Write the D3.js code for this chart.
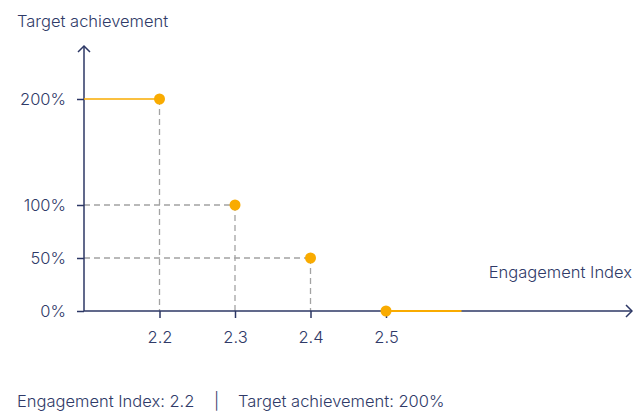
<!doctype html>
<html lang="en">
<head>
<meta charset="utf-8">
<script src="https://d3js.org/d3.v7.min.js"></script>
<style>
  body { margin: 0; background: #fff; }
  svg text { font-family: Inter, "Noto Sans", sans-serif; fill: #2f3a68; font-weight: 300; }
</style>
</head>
<body>
<div id="chart"></div>
<script>
  // data
  var engagement = [2.2, 2.3, 2.4, 2.5];
  var achievement = [200, 100, 50, 0];
  var xTicks = [2.2, 2.3, 2.4, 2.5];
  var yTicks = [0, 50, 100, 200];

  var width = 633, height = 411;
  var navy = "#2c3765", orange = "#f9ab00", grey = "#a3a3a3";
  var fs = 16.5;

  var svg = d3.select("#chart").append("svg")
    .attr("width", width).attr("height", height);

  var x = d3.scaleLinear().domain([2.1, 2.5]).range([84, 386]);
  var y = d3.scaleLinear().domain([0, 200]).range([311, 99]);

  var pts = engagement.map((e, i) => ({ x: e, y: achievement[i] }));

  // dashed guides
  svg.selectAll(".vguide").data(pts.filter(d => d.y > 0)).join("line")
    .attr("x1", d => x(d.x)).attr("x2", d => x(d.x))
    .attr("y1", d => y(d.y)).attr("y2", y(0))
    .attr("stroke", grey).attr("stroke-width", 1.3).attr("stroke-dasharray", "6,4");
  svg.selectAll(".hguide").data(pts.filter(d => d.y > 0 && d.y < 200)).join("line")
    .attr("x1", x(2.1)).attr("x2", d => x(d.x))
    .attr("y1", d => y(d.y)).attr("y2", d => y(d.y))
    .attr("stroke", grey).attr("stroke-width", 1.3).attr("stroke-dasharray", "6,4");

  // axes
  var xAxis = d3.axisBottom(x).tickValues(xTicks).tickSize(7).tickPadding(13).tickFormat(d3.format(".1f"));
  var yAxis = d3.axisLeft(y).tickValues(yTicks).tickSize(7).tickPadding(11).tickFormat(d => d + "%");

  var gx = svg.append("g").attr("transform", "translate(0," + y(0) + ")").call(xAxis);
  gx.select(".domain").remove();
  var gy = svg.append("g").attr("transform", "translate(" + x(2.1) + ",0)").call(yAxis);
  gy.select(".domain").remove();
  svg.selectAll(".tick line").attr("stroke", navy).attr("stroke-width", 1.5);
  svg.selectAll(".tick text").attr("font-size", fs).attr("font-family", null).attr("fill", null);

  // axis lines with arrows
  svg.append("line").attr("x1", x(2.1)).attr("x2", 632).attr("y1", y(0)).attr("y2", y(0))
    .attr("stroke", navy).attr("stroke-width", 1.5);
  svg.append("path").attr("d", "M626,305 L632,311 L626,317").attr("fill", "none")
    .attr("stroke", navy).attr("stroke-width", 1.5);
  svg.append("line").attr("x1", x(2.1)).attr("x2", x(2.1)).attr("y1", y(0)).attr("y2", 46)
    .attr("stroke", navy).attr("stroke-width", 1.5);
  svg.append("path").attr("d", "M78,52 L84,46 L90,52").attr("fill", "none")
    .attr("stroke", navy).attr("stroke-width", 1.5);

  // orange steps at ends
  svg.append("line").attr("x1", x(2.1)).attr("x2", x(2.2)).attr("y1", y(200)).attr("y2", y(200))
    .attr("stroke", orange).attr("stroke-width", 1.5);
  svg.append("line").attr("x1", x(2.5)).attr("x2", x(2.6)).attr("y1", y(0)).attr("y2", y(0))
    .attr("stroke", orange).attr("stroke-width", 2);

  // points
  svg.selectAll(".pt").data(pts).join("circle")
    .attr("cx", d => x(d.x)).attr("cy", d => y(d.y)).attr("r", 5.5)
    .attr("fill", orange);

  // labels
  svg.append("text").attr("x", 17).attr("y", 27).attr("font-size", fs).text("Target achievement");
  svg.append("text").attr("x", 632).attr("y", 278).attr("font-size", fs)
    .attr("text-anchor", "end").text("Engagement Index");
  svg.append("text").attr("x", 17).attr("y", 407).attr("font-size", fs)
    .text("Engagement Index: " + engagement[0]);
  svg.append("text").attr("x", 214).attr("y", 407).attr("font-size", fs).text("|");
  svg.append("text").attr("x", 238).attr("y", 407).attr("font-size", fs)
    .text("Target achievement: " + achievement[0] + "%");
</script>
</body>
</html>
